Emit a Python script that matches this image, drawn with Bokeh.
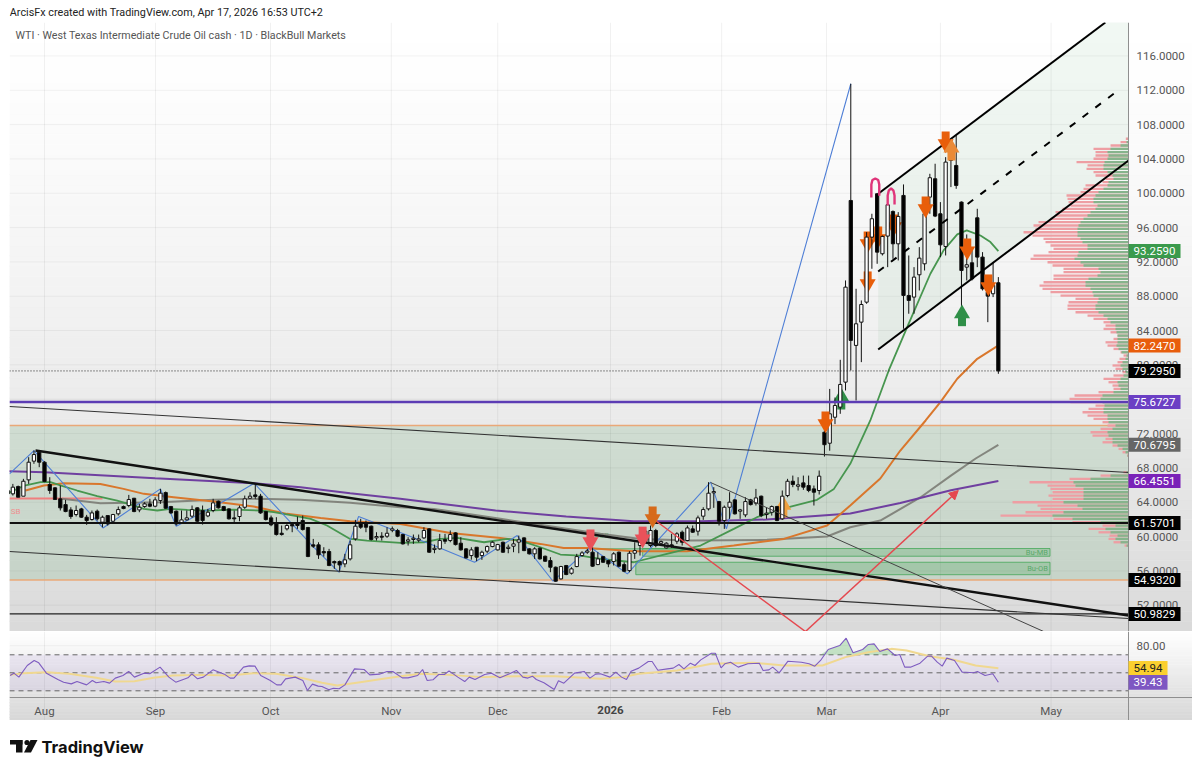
import numpy as np
from bokeh.plotting import figure
from bokeh.layouts import column
from bokeh.models import (Range1d, LinearAxis, FixedTicker, NumeralTickFormatter,
                          Arrow, NormalHead)
from bokeh.core.properties import value
from bokeh.embed import file_html
from bokeh.resources import INLINE

# ---------------- data ----------------
first_bar = -7
candle_kind = list("KWKWWWK" "KKKKKKWKKW" "KWKWWKWKWW" "KWWKKKWWWK" "KWWKKKKWWW" "KKKKKKWKKK"
                   "KKKKKKKWWW" "KKKWKWWKKW" "WWWKWWKWKK" "KWKWWWWKWW" "WKKWKKKKWK" "WWWWKWKKWK"
                   "KWWWWWKWWK" "WKWKWWWWKW" "WKWWKWKWWK" "WWKWKKKWKW" "WWWKWWWWKW" "WKWKKWWWWK"
                   "KWWKKWKKKKWK")
candle_high = [65.55,66.13,65.94,66.72,69.24,70.02,69.94,
 68.78,66.91,65.75,65.94,64.27,63.41,63.61,63.34,62.52,63.03,
 63.14,62.44,62.44,62.64,63.49,63.61,64.85,64.50,63.80,64.00,
 64.39,64.58,65.55,65.24,63.57,63.03,63.03,63.03,63.61,63.41,
 63.61,63.22,64.39,64.19,63.57,63.30,63.03,63.61,64.77,65.16,
 66.13,64.97,62.99,62.44,62.25,61.28,61.47,61.67,62.33,62.44,
 61.12,59.72,59.33,58.75,58.56,57.2,57.2,57.98,59.53,61.94,
 62.06,61.86,61.28,60.5,60.5,61.08,61.16,60.89,60.31,59.92,
 60.23,60.23,61.08,60.97,59.06,60.31,60.31,60.7,60.5,59.92,
 58.64,58.75,58.75,58.36,58.95,59.45,59.14,59.41,59.06,59.72,
 60.11,59.92,58.64,58.75,58.71,57.78,57.59,56.5,56.58,56.69,
 56.42,57.98,58.29,58.56,58.75,58.17,57.74,57.28,58.17,58.25,
 57,58.29,59.33,60.5,61.08,61.28,60.89,59.53,59.33,60.31,
 60.5,60.7,61.28,61.28,62.44,63.41,66.33,65.75,64.15,63.61,
 65.16,64.35,63.22,64.58,64.39,65.55,64.77,63.41,63.61,63.57,
 65.36,66.72,67.1,66.91,67.1,67.1,65.94,67.69,72.35,77.2,
 76.2,80.59,89.84,112.76,88.87,87.51,95.47,97.61,100,95.08,
 98.78,98,97.8,101.03,92.75,91.39,93.72,98.78,102.27,103.44,
 98.97,104.21,105.2,106.74,99.05,95.2,93.72,98.19,93.14,90.23,91.98,90.23]
candle_top = [65.36,65.75,65.82,66.44,68.66,69.55,69.83,
 68.66,66.06,65.67,64.39,63.72,63.10,63.03,63.22,62.25,62.75,
 62.95,62.25,62.44,62.56,63.14,63.49,64.31,64.46,63.41,63.80,
 63.80,64.27,65.05,65.12,63.49,62.95,61.94,62.17,63.14,63.34,
 63.03,62.83,63.92,64.11,63.49,63.22,62.17,63.34,64.39,64.70,
 64.85,64.70,62.91,62.17,61.47,60.38,61.28,61.39,61.47,61.86,
 61.05,59.03,59.03,58.25,58.25,57.08,57.08,57.28,59.03,61.2,
 61.55,61.47,61.2,60,60.03,60.38,60.89,60.7,60.23,59.61,
 59.8,59.72,60.7,60.89,58.63,59.53,59.65,60.23,60.42,59.22,
 58.56,58.44,58.75,58.17,58.83,59.33,59.06,59.33,58.75,59.14,
 59.61,59.84,58.56,58.56,58.64,57.7,57.2,56.42,56.5,56.62,
 56.23,57.66,58.09,58.32,58.17,57.39,57.66,57.2,57.98,58.17,
 56.73,58.05,58.36,59.33,60.62,60.7,60.7,59.41,59.22,59.03,
 60.31,60.5,61,60.89,62.17,63.14,65.05,65.24,64.07,63.41,
 64,64.27,63.1,64.07,64.27,64.5,64.7,62.72,63.49,63.49,
 64.7,66.44,66.44,66.02,66.25,65.94,65.55,67.03,72.15,74.3,
 75.27,77.72,89.06,99.16,84.79,87.04,94.89,97.03,99.94,94.97,
 98.66,97.88,97.3,99.75,88.09,90.23,92.44,97.61,101.81,101.69,
 97.61,103.63,104.99,103.24,98.97,91.67,91.9,97.14,92.56,88.48,89.26,89.57]
candle_bottom = [64.97,64.97,64.58,64.70,66.60,68.78,68.66,
 66.41,65.36,64.31,63.34,62.91,62.33,62.56,62.25,61.86,61.98,
 62.06,61.67,61.47,61.78,62.64,63.26,63.61,62.91,63.10,63.49,
 63.53,63.53,64.19,63.30,62.75,61.47,61.59,61.94,62.37,61.78,
 61.86,62.40,63.03,63.34,63.03,62.06,62.06,62.33,63.41,64.46,
 64.66,62.75,61.98,61.36,60.23,60.23,60.89,61.24,61.28,60.81,
 57.67,58.87,57.86,58.09,56.62,56.93,56.69,56.81,57.39,59.72,
 61.08,61.08,59.65,59.84,59.92,60.03,60.73,60.03,59.14,59.45,
 59.65,59.57,59.84,58.17,58.48,58.56,59.45,59.53,59.06,58.44,
 57.51,57.78,57.59,57.78,58.29,58.83,58.44,58.17,58.6,58.87,
 59.34,58.36,57.98,57.98,57.39,57.12,56.42,54.79,55.06,55.57,
 55.72,56.5,57.78,58.17,56.54,56.73,57,56.81,57.08,56.54,
 55.95,56.03,58.05,58.95,59.45,58.95,58.95,59.22,58.67,58.87,
 59.45,59.33,59.53,60.5,60.62,62.37,63.22,65.09,61.78,61.86,
 63.41,62.64,62.95,62.52,63.72,63.88,62.44,62.56,62.83,61.86,
 62.06,64.77,66.06,65.86,65.75,65.36,65.16,65.36,70.7,70.87,
 73.9,75.08,77.99,82.85,82.27,84.98,87.31,94.89,93.14,92.95,
 95.01,94.11,94.11,88.09,87.51,87.9,90.5,91.78,99.55,97.34,
 93.99,93.8,103.83,100.91,91,91.39,90.03,92.56,88.87,88.01,88.29,79.3]
candle_low = [64.77,64.77,64.58,64.70,66.13,68.47,68.08,
 66.33,64.97,64.27,63.03,62.83,62.06,62.33,62.17,61.36,61.86,
 61.86,61.08,61.28,61.70,62.44,63.18,63.41,62.83,62.83,63.34,
 63.41,63.41,63.80,63.22,62.64,61.28,61.47,61.86,62.17,61.70,
 61.39,62.25,62.83,63.26,62.95,61.98,61.67,61.78,63.22,64.39,
 64.39,62.64,61.86,61.20,60.11,60.11,60.70,60.50,60.89,60.70,
 57.59,58.67,57.39,57.66,56.54,56.23,55.84,56.42,57.2,59.53,
 60.89,60.5,59.53,59.53,59.53,59.84,60.5,59.92,59.06,58.95,
 59.14,59.33,59.72,58.09,58.05,58.44,59.14,59.33,58.95,58.36,
 57.43,57.3,57.12,57.28,58.05,58.75,58.36,58.09,58.05,58.17,
 58.05,58.29,57.9,57.39,57.31,57.04,55.84,54.71,54.98,55.49,
 55.57,56.42,57.66,57.98,56.46,56.66,56.93,56.42,56.62,56.42,
 55.84,55.84,57.39,57.78,59.33,58.75,58.75,58.95,58.6,58.67,
 59.14,58.95,59.45,60.42,60.11,61.94,63.03,63.34,61.28,60.89,
 62.06,62.56,62.06,62.25,63.61,63.61,62.25,62.06,62.44,61.78,
 61.94,64.58,65.75,65.36,65.44,65.16,63.61,64.89,69.32,70.0,
 73.1,74.3,77.02,79.35,75.85,80.32,87.12,91.2,91.78,92.75,
 91.39,92.36,92.17,84.21,85.96,85.96,88.67,91,97.61,97.22,
 92.56,92.75,100.72,100.52,85.57,89.84,89.84,91.39,88.67,84.98,87.9,78.96]

ema_green_x = [-6.77,-3.8,-0.76,1.14,3.16,6.2,10,13.8,17,18.85,21.4,23.9,27.1,30.9,35.9,41,43.5,47.3,50.5,53.6,58,61.2,67.55,
 72,75.1,78.3,83.4,87.8,90.3,94.1,97.9,101.7,105.5,111.8,118.1,124.5,130.8,135.2,139,141.6,146.6,149.8,152.9,
 156.7,160.2,163.7,168.1,170.6,173.2,175,177.6,179.5,181]
ema_green_y = [65.09,65.94,66.33,66.33,65.94,65.36,64.70,64.19,63.61,63.22,63.03,63.22,63.1,63.03,63.14,63.03,62.83,62.44,62.06,61.28,59.72,59.53,59.26,
 59.33,59.72,59.84,59.33,59.72,59.53,58.75,57.9,57.78,57.39,57,57.98,58.95,60.89,62.25,63.03,63.49,64.27,65.55,68.47,
 73.52,79.35,84.4,90.62,93.34,95.2,95.67,95.08,94.31,93.26]
ema_orange_x = [-3.6,-0.1,3.7,10.6,15,18.85,24.5,32.1,39.7,46,52.4,58,67.55,77,86.5,94.1,98.5,103,111.8,121.9,130.8,140.3,148.5,152.9,158.6,162.4,167.2,170,173.2,177,180.8,181]
ema_orange_y = [65.36,65.94,66.21,66.13,65.55,64.97,64.58,64.07,63.49,62.64,62.17,61.78,61.47,60.42,59.84,59.14,58.67,58.67,58.29,58.29,58.95,59.72,61.28,63.61,66.76,70.02,73.52,75.66,78.38,80.71,82.19,82.25]
ema_gray_x = [3.35,10.6,22,32.1,40.4,48.6,58,67.55,73.9,86.5,105.5,113.1,122.6,137.1,148.5,152.9,158.6,166.2,172,176.7,181]
ema_gray_y = [64.39,63.88,64,64.27,64.39,64.27,63.92,63.41,63.22,62.06,60.31,59.72,59.53,59.61,60,61.08,61.86,64.55,67.1,69.09,70.68]
ema_purple_x = [-6.8,0,21,39.7,48.6,58,67.5,85.6,99,111.8,124.5,137,152.9,162.4,172,181]
ema_purple_y = [67.61,67.49,66.79,66.21,65.74,65.05,64.39,63.03,62.33,61.78,61.78,61.98,62.68,63.9,65.4,66.46]

zigzag_x = [-6.64,-2,11.1,22,25,34,39.8,50.8,55.85,59.6,73.9,81.6,89.7,96.5,103.6,110.6,126.4,129.4,153]
zigzag_y = [67.3,70.02,61,65.55,61.2,64.11,66.2,58.95,55.84,62.33,58.95,57,60.11,54.79,58.75,55.64,66.33,60.89,112.76]

vp_price = [106.35,105.96,105.57,105.18,104.79,104.40,104.02,103.63,103.24,102.85,102.46,102.07,101.68,101.29,100.91,100.52,100.13,99.74,99.35,98.96,98.57,98.18,97.80,97.41,97.02,96.63,96.24,95.85,95.46,95.07,94.69,94.30,93.91,93.52,93.13,92.74,92.35,91.96,91.58,91.19,90.80,90.41,90.02,89.63,89.24,88.85,88.47,88.08,87.69,87.30,86.91,86.52,86.13,85.74,85.36,84.97,84.58,84.19,83.80,83.41,83.02,82.63,82.25,81.86,81.47,
 81.09,80.70,80.31,79.93,79.54,79.15,78.76,78.37,77.98,77.59,77.20,76.82,76.43,76.04,75.65,75.26,74.87,74.48,74.09,73.71,73.32,72.93,72.54,72.15,71.76,71.37,70.98,70.60,70.21,69.82,69.43,
 67.49,67.10,66.71,66.32,65.94,65.55,65.16,64.77,64.38,63.99,63.60,63.21,62.83,62.44,62.05,61.66,61.27,60.88,60.49,60.10,59.72,59.33,58.94]
vp_total = [2.7,8,18,35,33,33,35,52,41,42,35,33,23,26,43,45,48,62,61,60,58,66,73,73,78,90,95,93,105,96,85,83,78,75,80,95,98,81,76,65,65,75,75,85,89,86,78,68,53,60,61,61,53,41,35,25,23,25,18,11,15,23,21,15,8,
 5,9,11,16,13,6,15,25,20,16,15,30,54,59,58,33,40,46,41,35,26,21,28,38,36,23,26,16,10,6,1.5,
 5,28,59,99,81,78,76,80,76,116,91,88,103,128,75,56,26,40,30,19,20,15,4]
vp_up = [.7,2,8,18,21,20,21,24,25,25,21,16,15,20,21,25,30,33,35,35,31,33,38,41,45,48,50,51,51,51,48,46,41,41,50,51,54,48,45,30,28,31,40,43,43,38,36,35,30,31,33,33,30,25,21,18,13,13,12,11,11,11,12,10,7,
 2,3,6,8,6,3,5,8,11,10,8,15,26,28,26,24,25,25,21,21,20,13,16,21,20,16,16,11,6,3,1,
 2,18,38,55,53,45,45,45,45,65,51,46,65,76,56,28,13,23,18,11,13,8,2]

rsi_x = [-6.53,-5.8,-4.86,-3.27,-1.96,-1.09,.36,2.54,3.63,5.08,6.17,7.99,9.08,9.81,11.26,12.35,13.44,14.89,15.98,17.07,18.88,19.97,21.93,23.6,24.91,27.23,27.96,29.05,30.14,31.96,34.13,35.22,35.95,37.76,38.85,39.94,41.03,42.85,44.08,44.88,45.75,47.57,49.02,49.89,50.84,51.93,52.65,53.96,54.83,55.92,57.01,58.83,60.64,61.73,63.54,65,66.09,67.9,68.99,70.81,71.75,72.62,73.71,74.8,75.89,76.76,78.43,79.74,80.61,81.7,83.52,84.82,86.42,88.24,89.55,90.78,91.72,92.59,93.32,94.77,96.73,97.53,98.55,100.58,102.4,103.49,104.58,
 105.5,107.3,108.4,109.5,110.44,111.31,112.76,114.58,115.3,116.39,118.21,119.3,120.39,121.33,122.57,123.44,124.53,126.56,127.29,128.38,129.1,130.19,131.64,133.46,135.64,136.36,137.45,138.18,139.41,141.08,143.63,145.08,146.17,147.26,148.71,150.89,152.12,153.43,155.25,156.33,157.42,158.51,159.97,161.42,162.29,163.23,164.32,166.14,167.59,168.32,169.41,170.35,171.22,172.68,174.13,174.85,176.31,177.03,178.48,179.94,181]
rsi_y = [47,49.6,45.2,58.1,63.7,61.1,49.6,42.6,39.6,37.7,40.3,36.6,41.4,38.9,40.3,38.5,44.1,47,51.5,45.2,49.6,48.9,56.3,45.2,39.6,44.4,48.9,43.3,45.2,53.3,48.5,44.1,44.1,56.3,57.7,57.4,47,41.4,36.6,36.6,43.3,45.2,41.4,30.3,37.4,35.2,34.8,31.1,32.9,32.2,36.6,54.4,53.7,47.7,48.5,51.5,51.5,44.4,44.4,47,53.7,41.4,42.2,48.1,48.1,52.2,45.2,40.3,45.2,42.6,48.1,49.6,44.4,48.9,52.6,45.2,44.1,46.3,42.6,38.9,31.5,41.1,38.5,49.6,51.5,44.1,48.5,
 48.9,45.2,50.7,45.2,42.6,51.8,55.2,62.6,62.6,52.9,54.4,55.2,59.2,54.4,60.7,58.1,64.4,71.8,71.8,55.5,60,61.8,56.3,60,60.7,52.6,53.3,56.3,50,62.9,61.8,60,57.4,63.7,75.9,80.3,88.5,72.2,75.9,81.5,82.2,73.7,76.6,69.2,70.3,56.3,56.3,60.7,68.5,68.5,61.8,57.4,66.3,63.7,50.7,50.7,50,51.5,47,48.9,39.43]
rsi_ma_x = [-6.53,-3.99,.36,4.72,9.81,13.44,17.07,20.7,24.33,29.41,35.22,39.58,43.94,49.02,52.65,55.56,59.91,64.27,68.63,71.53,76.62,83.15,89.69,96.95,105.5,109.86,112.76,120.02,126.56,134.55,140.36,147.62,152,156.33,160.69,163.6,167.95,172.31,176.67,181]
rsi_ma_y = [47.7,49.6,50.7,48.9,44.4,40.3,40.7,44.4,47,47.7,47,49.6,48.9,44.1,38.9,35.9,39.6,43.3,47,48.9,47.7,45.2,46.3,46.3,43.3,45.2,48.9,52.6,60,61.1,58.1,58.1,67.4,72.9,76.6,74.8,68.5,64.8,58.1,54.94]

y_ticks = [52,56,60,64,68,72,76,80,84,88,92,96,100,104,108,112,116]
month_pos = [0,21.06,42.9,65.8,86,128.5,148.4,170,191]
month_names = ["Aug","Sep","Oct","Nov","Dec","Feb","Mar","Apr","May"]
year_pos = 107.4
year_name = "2026"

price_tags = [93.259,82.247,79.295,75.6727,70.6795,66.4551,61.5701,54.932,50.9829]
price_tag_text = ["93.2590","82.2470","79.2950","75.6727","70.6795","66.4551","61.5701","54.9320","50.9829"]
price_tag_color = ["#3a9a4c","#e85d0c","#000000","#6b3fc4","#666666","#7a22b8","#000000","#000000","#000000"]

back_down_x, back_down_y = [156.2,156.2,158.2,161.2], [94.5,89.84,95.08,96.48]
back_up_x, back_up_y = [140.2], [63.26]
back_green_x, back_green_y = [151.2], [75.85]
down_x = [148.2,167.2,171,175.1,179.1]
down_y = [73.52,98.58,106.15,93.68,89.49]
down2_x, down2_y = [115.4], [62.45]
red_x, red_y = [103.6,113.5], [59.77,60.1]
up_light_x, up_light_y = [172.1], [104.87]
up_green_x, up_green_y = [174.1], [85.56]

# ---------------- frame ----------------
BAR_L, BAR_R, AXIS = -6.64, 217.84, 205.7
P_TOP, P_BOT = 119.9, 48.93
R_TOP, R_BOT = 95.9, -3.0
PX = 8.58  # pixels per price unit
BARPX = 5.27

def base(w, h, xr, yr, left=9):
    f = figure(width=w, height=h, x_range=xr, y_range=yr, toolbar_location=None,
               output_backend="svg", x_axis_location=None, y_axis_location=None,
               min_border_left=left, min_border_right=0, min_border_top=0, min_border_bottom=0,
               outline_line_color=None, background_fill_color="white", border_fill_color="white")
    f.grid.visible = False
    return f

def gradient(f, top, bot, end_grey, gamma, n=60):
    edges = [top + (bot - top) * k / n for k in range(n + 1)]
    colors = []
    for k in range(n):
        t = ((k + .5) / n) ** gamma
        g = int(round(255 - (255 - end_grey) * t))
        colors.append("#%02x%02x%02x" % (g, g, g))
    f.quad(left=BAR_L, right=BAR_R, top=edges[:-1], bottom=edges[1:], fill_color=colors,
           line_color=colors, line_width=.5, level="image")

font = value("Roboto")

# ---------------- header ----------------
hd = base(1192, 22, Range1d(0, 1192), Range1d(22, 0), left=0)
hd.text(x=[0.3], y=[12], text=["ArcisFx created with TradingView.com, Apr 17, 2026 16:53 UTC+2"], text_font=font,
        text_font_size="10.8px", text_color="#222222", text_baseline="middle")

# ---------------- price pane ----------------
p = base(1192, 609, Range1d(BAR_L, BAR_R), Range1d(P_BOT, P_TOP))
gradient(p, P_TOP, P_BOT, 218, 1.35)

# grid
p.segment(x0=BAR_L, x1=AXIS, y0=y_ticks, y1=y_ticks, line_color="#000000", line_alpha=.05, level="underlay")
mx = month_pos + [year_pos]
p.segment(x0=mx, x1=mx, y0=P_BOT, y1=P_TOP, line_color="#000000", line_alpha=.06, level="underlay")

# zones
p.quad(left=BAR_L, right=AXIS, top=72.94, bottom=54.932, fill_color="#4c995a", fill_alpha=.16, line_color=None)
p.segment(x0=BAR_L, x1=AXIS, y0=[72.94,54.932], y1=[72.94,54.932], line_color="#e9a878", line_width=1.6)
ch_x = [158.2,201.3,205.7,205.7,158.2]
ch_y = [99.94,119.9,121.9,103.82,81.8]
p.patch(ch_x, ch_y, fill_color="#3f9a5a", fill_alpha=.07, line_color=None)
p.quad(left=[113.5,112.2], right=[190.8,190.8], top=[58.6,57.0], bottom=[57.7,55.55],
       fill_color="#46a85a", fill_alpha=.27, line_color="#46a85a", line_alpha=.8, line_width=1)
p.text(x=[190.4,190.4], y=[58.15,56.3], text=["Bu-MB","Bu-OB"], text_font=font, text_font_size="7.5px",
       text_color="#5aa86a", text_align="right", text_baseline="middle")
p.segment(x0=103.6, x1=122, y0=58.55, y1=58.55, line_color="#46a85a", line_width=1.2, line_alpha=.8)
p.text(x=[104], y=[60.15], text=["MOB"], text_font=font, text_font_size="7.5px", text_color="#7fb88a", text_baseline="middle")
p.segment(x0=BAR_L, x1=11, y0=64.43, y1=64.43, line_color="#ef7f7f", line_width=2)
p.text(x=[-6.4], y=[62.95], text=["SB"], text_font=font, text_font_size="8px", text_color="#ef9090",
       text_baseline="middle")

# volume profile
vp_left_total = [AXIS - v / BARPX for v in vp_total]
vp_left_up = [AXIS - v / BARPX for v in vp_up]
p.hbar(y=vp_price, left=vp_left_total, right=AXIS, height=.27, fill_color="#ee9ea3", line_color=None)
p.hbar(y=vp_price, left=vp_left_up, right=AXIS, height=.27, fill_color="#86b48c", line_color=None)

# averages
p.line(ema_gray_x, ema_gray_y, line_color="#777770", line_width=2, line_alpha=.85)
p.line(ema_purple_x, ema_purple_y, line_color="#6f3fa0", line_width=2)
p.line(ema_orange_x, ema_orange_y, line_color="#d9772c", line_width=2)
p.line(ema_green_x, ema_green_y, line_color="#47964f", line_width=1.8)

# zigzag
p.line(zigzag_x, zigzag_y, line_color="#4f7fd6", line_width=1.1)

# arrows
def arrows(xs, ys, color, down):
    d = 1 if down else -1
    p.rect(x=xs, y=[v + d * 4.5 / PX for v in ys], width=8, height=9, width_units="screen", height_units="screen",
           fill_color=color, line_color=None)
    p.scatter(x=xs, y=[v - d * 3.5 / PX for v in ys], size=16,
              marker="inverted_triangle" if down else "triangle", fill_color=color, line_color=None)

arrows(back_down_x, back_down_y, "#e85e0a", True)
arrows(back_up_x, back_up_y, "#efa040", False)
arrows(back_green_x, back_green_y, "#2f8f48", False)

# candles
bars = [first_bar + k for k in range(len(candle_high))]
is_up = [c == "W" for c in candle_kind]
p.segment(x0=bars, x1=bars, y0=candle_low, y1=candle_high, line_color="#111111", line_width=1)
fills = ["#ffffff" if u else "#000000" for u in is_up]
p.vbar(x=bars, width=.62, top=candle_top, bottom=candle_bottom, fill_color=fills, line_color="#111111", line_width=1)

# level lines
p.segment(x0=BAR_L, x1=AXIS, y0=75.6727, y1=75.6727, line_color="#5c3cb4", line_width=2.4)
p.segment(x0=BAR_L, x1=AXIS, y0=61.5701, y1=61.5701, line_color="#111111", line_width=2)
p.segment(x0=BAR_L, x1=AXIS, y0=50.9829, y1=50.9829, line_color="#222222", line_width=1.4)
p.segment(x0=BAR_L, x1=AXIS, y0=79.295, y1=79.295, line_color="#222222", line_width=1, line_dash="1 2")

# trend lines
p.line([-1.7,205.7], [70.02,50.8], line_color="#111111", line_width=2.4)
p.line([-6.64,205.7], [75.15,67.46], line_color="#333333", line_width=1.1)
p.line([-6.64,205.7], [58.25,50.44], line_color="#333333", line_width=1.1)
p.line([126.4,189.6], [66.29,48.93], line_color="#444444", line_width=1)

# red V
p.line([115.4,144.4], [62.1,48.93], line_color="#e5484f", line_width=1.5)
p.add_layout(Arrow(end=NormalHead(size=9, fill_color="#e5484f", line_color="#e5484f"), x_start=144.4, y_start=48.93,
                   x_end=173.4, y_end=65.36, line_color="#e5484f", line_width=1.5))

# channel
p.line([158.2,201.3], [99.94,119.9], line_color="#000000", line_width=2)
p.line([158.2,205.7], [81.8,103.82], line_color="#000000", line_width=2)
p.line([158.2,204.2], [90.89,112.2], line_color="#000000", line_width=2, line_dash="7 9")

arrows(down_x, down_y, "#e85e0a", True)
arrows(down2_x, down2_y, "#d66a1a", True)
arrows(red_x, red_y, "#e9525a", True)
arrows(up_light_x, up_light_y, "#ea8a36", False)
arrows(up_green_x, up_green_y, "#2f8f48", False)

p.line([156.9,156.9,157.1,157.65,158.2,158.4,158.4], [99.51,101.03,101.55,101.72,101.55,101.03,99.7],
       line_color="#e0357a", line_width=2.4)
p.line([160,160,160.2,160.65,161.1,161.3,161.3], [98.58,99.74,100.3,100.56,100.3,99.74,98.7],
       line_color="#e0357a", line_width=2.4)

# subtitle inside the pane
p.text(x=[-5.5], y=[118.35], text=["WTI · West Texas Intermediate Crude Oil cash · 1D · BlackBull Markets"], text_font=font,
       text_font_size="10.7px", text_color="#555555", text_baseline="middle")

# axis inside the frame
ax = LinearAxis(fixed_location=AXIS, ticker=FixedTicker(ticks=y_ticks), formatter=NumeralTickFormatter(format="0.0000"),
                major_tick_line_color=None, minor_tick_line_color=None, axis_line_color="#8f8f8f",
                major_label_text_color="#555555", major_label_text_font="Roboto", major_label_text_font_size="11.5px",
                major_label_standoff=2)
p.add_layout(ax, "right")

# price tags
tag_l, tag_r = AXIS, AXIS + 52 / BARPX
hh = 7 / PX
p.quad(left=tag_l, right=tag_r, top=[v + hh for v in price_tags], bottom=[v - hh for v in price_tags],
       fill_color=price_tag_color, line_color=None, level="overlay")
p.text(x=(tag_l + tag_r) / 2, y=price_tags, text=price_tag_text, text_font=font, text_font_size="11.5px",
       text_color="#ffffff", text_align="center", text_baseline="middle", level="overlay")

# ---------------- RSI ----------------
r = base(1192, 89, Range1d(BAR_L, BAR_R), Range1d(R_BOT, R_TOP))
gradient(r, R_TOP, R_BOT, 215, 1.0, n=30)
r.segment(x0=BAR_L, x1=AXIS, y0=80, y1=80, line_color="#000000", line_alpha=.05, level="underlay")
r.segment(x0=mx, x1=mx, y0=R_BOT, y1=R_TOP, line_color="#000000", line_alpha=.06, level="underlay")
r.quad(left=BAR_L, right=AXIS, top=70, bottom=30, fill_color="#7e57c2", fill_alpha=.1, line_color=None)
r.segment(x0=BAR_L, x1=AXIS, y0=[70,50,30], y1=[70,50,30], line_color="#666666", line_width=1, line_dash="5 4")
r.varea(x=rsi_x, y1=[70] * len(rsi_y), y2=[max(v, 70) for v in rsi_y], fill_color="#4caf50", fill_alpha=.3)
r.line(rsi_ma_x, rsi_ma_y, line_color="#f0d890", line_width=2)
r.line(rsi_x, rsi_y, line_color="#7e5cc0", line_width=1.1)

r_y = LinearAxis(fixed_location=AXIS, ticker=FixedTicker(ticks=[80]), formatter=NumeralTickFormatter(format="0.00"),
                 major_tick_line_color=None, minor_tick_line_color=None, axis_line_color="#8f8f8f",
                 major_label_text_color="#555555", major_label_text_font="Roboto", major_label_text_font_size="11.5px",
                 major_label_standoff=2)
r.add_layout(r_y, "right")
r_x = LinearAxis(fixed_location=22.6, ticker=FixedTicker(ticks=month_pos),
                 major_label_overrides=dict(zip(month_pos, month_names)),
                 major_tick_line_color=None, minor_tick_line_color=None, axis_line_color="#8f8f8f",
                 major_label_text_color="#555555", major_label_text_font="Roboto", major_label_text_font_size="11.5px",
                 major_label_standoff=1)
r.add_layout(r_x, "below")
r.text(x=[year_pos], y=[9.2], text=[year_name], text_font=font, text_font_size="11.5px", text_font_style="bold",
       text_color="#444444", text_align="center", text_baseline="middle")
rsi_tags = [54.94, 39.43]
rsi_tag_text = ["54.94", "39.43"]
rsi_tag_bg = ["#fbcf2f", "#7e57c2"]
rsi_tag_fg = ["#222222", "#ffffff"]
t_r = AXIS + 39 / BARPX
r.quad(left=AXIS, right=t_r, top=[v + 8.2 for v in rsi_tags], bottom=[v - 8.2 for v in rsi_tags],
       fill_color=rsi_tag_bg, line_color=None, level="overlay")
r.text(x=(AXIS + t_r) / 2, y=rsi_tags, text=rsi_tag_text, text_font=font, text_font_size="11.5px", text_color=rsi_tag_fg,
       text_align="center", text_baseline="middle", level="overlay")

# ---------------- logo ----------------
lg = base(1192, 43, Range1d(9, 1192), Range1d(763, 720))
lg.quad(left=[9.5,15.5], right=[22,22], top=[739.5,739.5], bottom=[744,752], fill_color="#111111", line_color=None)
lg.circle(x=[26.5], y=[742], radius=2.6, fill_color="#111111", line_color=None)
lg.patch([30,37,30.5,23.5], [739.5,739.5,752,752], fill_color="#111111", line_color=None)
lg.text(x=[41], y=[746], text=["TradingView"], text_font=value("Inter"), text_font_size="16.5px", text_font_style="bold",
        text_color="#111111", text_baseline="middle")

page = column(hd, p, r, lg, spacing=0)
open("out.html", "w").write(file_html(page, INLINE))
